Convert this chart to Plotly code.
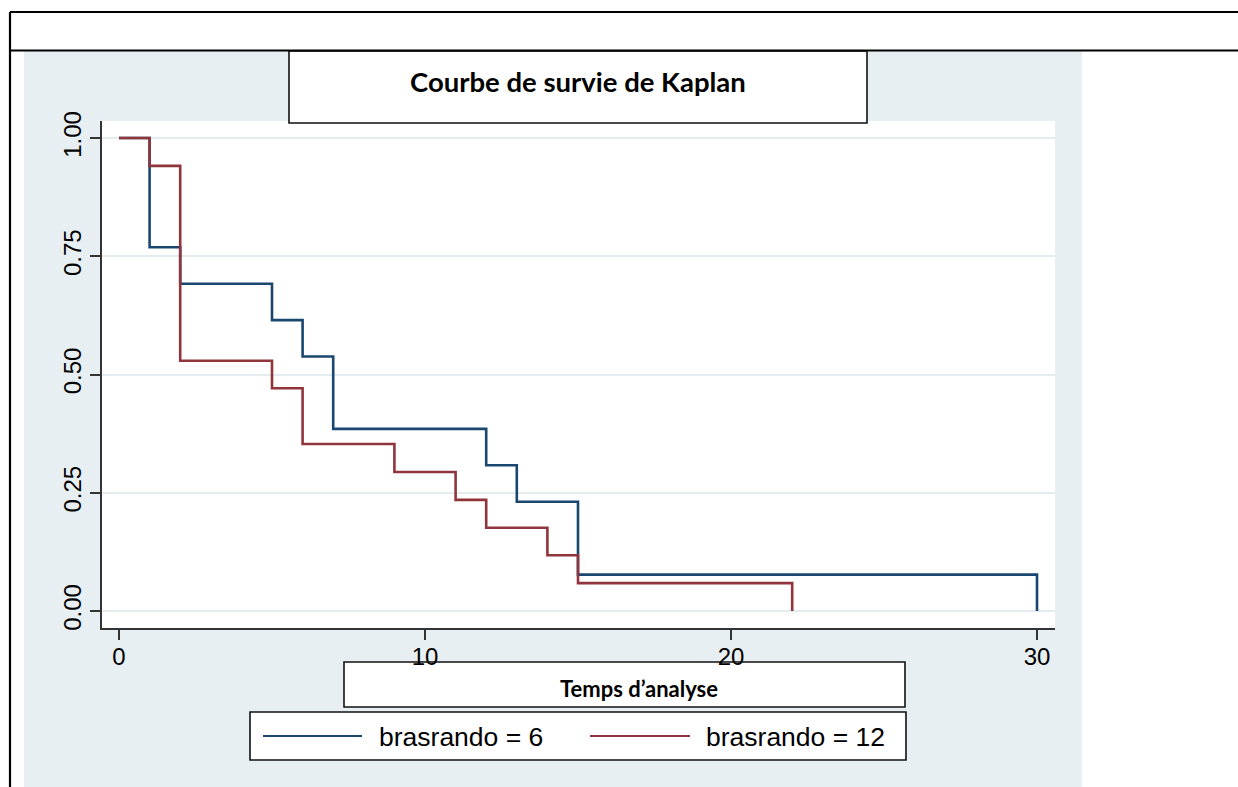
import plotly.graph_objects as go

# Kaplan-Meier survival estimates per treatment arm
group_labels = ["brasrando = 6", "brasrando = 12"]
times_6 = [0, 1, 2, 5, 6, 7, 12, 13, 15, 30]
surv_6 = [1.000, 0.769, 0.692, 0.615, 0.538, 0.385, 0.308, 0.231, 0.077, 0.000]
times_12 = [0, 1, 2, 5, 6, 9, 11, 12, 14, 15, 22]
surv_12 = [1.000, 0.941, 0.529, 0.471, 0.353, 0.294, 0.235, 0.176, 0.118, 0.059, 0.000]

x_ticks = [0, 10, 20, 30]
y_ticks = [0, 0.25, 0.5, 0.75, 1.0]
y_tick_text = ["0.00", "0.25", "0.50", "0.75", "1.00"]

title_text = "Courbe de survie de Kaplan"
xaxis_title = "Temps d\u2019analyse"

BLUE = "#1a476f"
RED = "#90353b"
REGION = "#e8eff2"
GRID = "#e4ecef"
AXIS = "#333333"

W, H = 1238, 787
ML, MR, MT, MB = 102, 183, 121, 159
PW = W - ML - MR
PH = H - MT - MB


def px(x):
    return (x - ML) / PW


def py(y):
    return (H - MB - y) / PH


fig = go.Figure()
fig.add_trace(go.Scatter(x=times_6, y=surv_6, mode="lines", line_shape="hv",
                         line=dict(color=BLUE, width=2.6), name=group_labels[0]))
fig.add_trace(go.Scatter(x=times_12, y=surv_12, mode="lines", line_shape="hv",
                         line=dict(color=RED, width=2.6), name=group_labels[1]))

shapes = []
# graph region background and white plot area
shapes.append(dict(type="rect", xref="paper", yref="paper", x0=px(24), x1=px(1082),
                   y0=py(787), y1=py(51), fillcolor=REGION, line=dict(width=0), layer="below"))
shapes.append(dict(type="rect", xref="paper", yref="paper", x0=0, x1=1, y0=0, y1=1,
                   fillcolor="white", line=dict(width=0), layer="below"))


def box(x0, y0, x1, y1):
    return dict(type="rect", xref="paper", yref="paper", x0=px(x0), x1=px(x1),
                y0=py(y1), y1=py(y0), fillcolor="white",
                line=dict(color="#111111", width=1.6), layer="below")


shapes.append(box(289, 51, 867, 123))   # title box
shapes.append(box(344, 662, 905, 707))  # x axis title box
shapes.append(box(250, 712, 906, 760))  # legend box

# legend keys
shapes.append(dict(type="line", xref="paper", yref="paper", x0=px(263), x1=px(362),
                   y0=py(736), y1=py(736), line=dict(color=BLUE, width=2)))
shapes.append(dict(type="line", xref="paper", yref="paper", x0=px(590), x1=px(690),
                   y0=py(736), y1=py(736), line=dict(color=RED, width=2)))

# surrounding table rules
for (x0, y0, x1, y1) in [(10, 12, 1238, 12), (10, 50.5, 1238, 50.5), (10, 12, 10, 787)]:
    shapes.append(dict(type="line", xref="paper", yref="paper", x0=px(x0), x1=px(x1),
                       y0=py(y0), y1=py(y1), line=dict(color="black", width=2.2)))

annotations = [
    dict(text="<b>" + title_text + "</b>", xref="paper", yref="paper",
         x=px(578), y=py(81), xanchor="center", yanchor="middle", showarrow=False,
         font=dict(family="Lato", size=27.5, color="black")),
    dict(text="<b>" + xaxis_title + "</b>", xref="paper", yref="paper",
         x=px(639), y=py(688), xanchor="center", yanchor="middle", showarrow=False,
         font=dict(family="Lato", size=22, color="black")),
    dict(text=group_labels[0], xref="paper", yref="paper",
         x=px(377), y=py(737), xanchor="left", yanchor="middle", showarrow=False,
         font=dict(family="Liberation Sans", size=26.5, color="black")),
    dict(text=group_labels[1], xref="paper", yref="paper",
         x=px(704), y=py(737), xanchor="left", yanchor="middle", showarrow=False,
         font=dict(family="Liberation Sans", size=26.5, color="black")),
]

x_lo = (ML - 119) / 30.6
x_hi = (W - MR - 119) / 30.6
y_lo = (611 - (H - MB)) / 473
y_hi = (611 - MT) / 473

fig.update_layout(
    width=W, height=H,
    margin=dict(l=ML, r=MR, t=MT, b=MB, pad=0),
    paper_bgcolor="white", plot_bgcolor="white",
    showlegend=False,
    shapes=shapes, annotations=annotations,
    xaxis=dict(range=[x_lo, x_hi], tickvals=x_ticks, ticks="outside", ticklen=10,
               tickwidth=1.5, tickcolor=AXIS, showline=True, linecolor=AXIS, linewidth=1.5,
               showgrid=False, zeroline=False, ticklabelstandoff=-4,
               tickfont=dict(family="Liberation Sans", size=24, color="black")),
    yaxis=dict(range=[y_lo, y_hi], tickvals=y_ticks, ticktext=y_tick_text, tickangle=-90,
               ticks="outside", ticklen=10, tickwidth=1.5, tickcolor=AXIS,
               showline=True, linecolor=AXIS, linewidth=1.5,
               showgrid=True, gridcolor=GRID, gridwidth=2, zeroline=False,
               tickfont=dict(family="Liberation Sans", size=24, color="black")),
)

fig.write_html("out.html")
